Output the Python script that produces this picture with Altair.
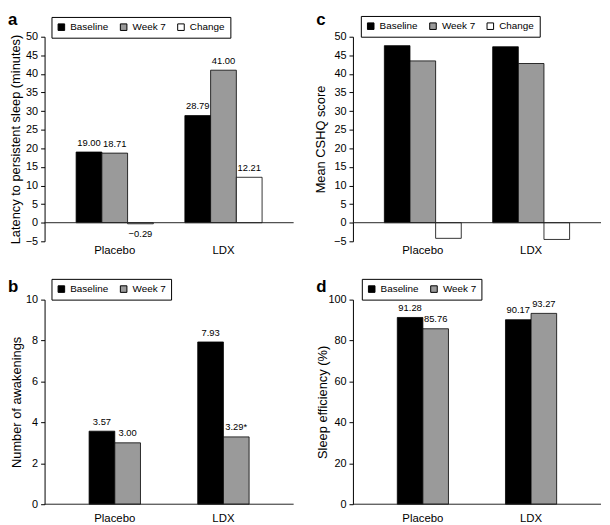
import altair as alt
import pandas as pd

FONT = "Liberation Sans"

categories = ["Placebo", "LDX"]
series3 = ["Baseline", "Week 7", "Change"]
series2 = ["Baseline", "Week 7"]
colors3 = ["#000000", "#9a9a9a", "#ffffff"]
colors2 = ["#000000", "#9a9a9a"]

# Panel a: latency to persistent sleep (minutes)
a_baseline = [19.00, 28.79]
a_week7 = [18.71, 41.00]
a_change = [-0.29, 12.21]
a_lab_baseline = ["19.00", "28.79"]
a_lab_week7 = ["18.71", "41.00"]
a_lab_change = ["\u22120.29", "12.21"]

# Panel c: mean CSHQ score (no value labels)
c_baseline = [47.6, 47.3]
c_week7 = [43.5, 42.8]
c_change = [-4.2, -4.5]

# Panel b: number of awakenings
b_baseline = [3.57, 7.93]
b_week7 = [3.00, 3.29]
b_lab_baseline = ["3.57", "7.93"]
b_lab_week7 = ["3.00", "3.29*"]

# Panel d: sleep efficiency (%)
d_baseline = [91.28, 90.17]
d_week7 = [85.76, 93.27]
d_lab_baseline = ["91.28", "90.17"]
d_lab_week7 = ["85.76", "93.27"]

a_ticks = list(range(-5, 55, 5))
c_ticks = list(range(-5, 55, 5))
b_ticks = list(range(0, 12, 2))
d_ticks = list(range(0, 120, 20))


def make_df(series_names, value_lists, label_lists):
    rows = []
    for s, vals, labs in zip(series_names, value_lists, label_lists):
        for c, v, l in zip(categories, vals, labs):
            rows.append({"cat": c, "series": s, "value": v, "label": l})
    return pd.DataFrame(rows)


df_a = make_df(series3, [a_baseline, a_week7, a_change],
               [a_lab_baseline, a_lab_week7, a_lab_change])
df_c = make_df(series3, [c_baseline, c_week7, c_change],
               [["", ""], ["", ""], ["", ""]])
df_b = make_df(series2, [b_baseline, b_week7], [b_lab_baseline, b_lab_week7])
df_d = make_df(series2, [d_baseline, d_week7], [d_lab_baseline, d_lab_week7])


def panel(df, series, colors, letter, letter_y, ytitle, title_x, ydomain, yvalues,
          pad_inner, pad_outer, label_pad, legend_x, legend_y, width,
          show_labels=True):
    x_enc = alt.X(
        "cat:N", sort=categories, title=None,
        scale=alt.Scale(paddingInner=pad_inner, paddingOuter=pad_outer),
        axis=alt.Axis(labelAngle=0, domain=False, ticks=False, tickSize=0,
                      labelPadding=label_pad, labelFontSize=11.5,
                      labelColor="black", labelFont=FONT),
    )
    xo = alt.XOffset("series:N", sort=series,
                     scale=alt.Scale(paddingInner=0, paddingOuter=0))
    y_enc = alt.Y(
        "value:Q",
        scale=alt.Scale(domain=ydomain, nice=False),
        axis=alt.Axis(title=ytitle, values=yvalues, grid=False,
                      domainColor="black", tickColor="black", tickSize=4,
                      labelPadding=3, labelFontSize=11, labelColor="black",
                      labelFont=FONT, titleFont=FONT, titleFontSize=13,
                      titleFontWeight="normal", titleColor="black",
                      titleX=title_x, titleBaseline="alphabetic"),
    )
    color = alt.Color(
        "series:N", sort=series,
        scale=alt.Scale(domain=series, range=colors),
        legend=alt.Legend(title=None, orient="none", legendX=legend_x,
                          legendY=legend_y, direction="horizontal",
                          symbolType="square", symbolSize=44,
                          symbolStrokeColor="black", symbolStrokeWidth=1,
                          labelFontSize=10, labelFont=FONT, labelColor="black",
                          labelOffset=4, columnPadding=9, padding=5,
                          strokeColor="black", fillColor="white",
                          cornerRadius=0),
    )
    base = alt.Chart(df)
    bars = base.mark_bar(stroke="black", strokeWidth=0.8).encode(
        x=x_enc, xOffset=xo, y=y_enc, y2=alt.datum(0), color=color
    )
    zero = alt.Chart(pd.DataFrame({"value": [0]})).mark_rule(
        color="#222222", strokeWidth=1
    ).encode(y=y_enc)
    letter_mark = alt.Chart(pd.DataFrame({"t": [letter]})).mark_text(
        fontSize=17, fontWeight="bold", align="left", baseline="alphabetic",
        font=FONT, color="black"
    ).encode(text="t:N", x=alt.value(-37), y=alt.value(letter_y))
    layers = [bars, zero]
    if show_labels:
        pos = base.transform_filter("datum.value >= 0").mark_text(
            baseline="alphabetic", dy=-6.5, fontSize=9.5, font=FONT,
            color="black"
        ).encode(x=x_enc, xOffset=xo, y=y_enc, text="label:N")
        neg = base.transform_filter("datum.value < 0").mark_text(
            baseline="top", dy=5, fontSize=9.5, font=FONT, color="black"
        ).encode(x=x_enc, xOffset=xo, y=y_enc, text="label:N")
        layers += [pos, neg]
    layers.append(letter_mark)
    return alt.layer(*layers).properties(width=width, height=207)


pa = panel(df_a, series3, colors3, "a", -12,
           "Latency to persistent sleep (minutes)", -25, [-5, 50], a_ticks,
           0.29, 0.29, 3, 7, -20, 252)
pc = panel(df_c, series3, colors3, "c", -12, "Mean CSHQ score", -29,
           [-5, 50], c_ticks, 0.29, 0.29, 3, 8, -21, 251, show_labels=False)
pb = panel(df_b, series2, colors2, "b", -8, "Number of awakenings", -24,
           [0, 10], b_ticks, 0.527, 0.41, 8, 7, -21, 252)
pd_ = panel(df_d, series2, colors2, "d", -8, "Sleep efficiency (%)", -27,
            [0, 100], d_ticks, 0.527, 0.41, 8, 9, -21, 251)

chart = alt.concat(
    pa, pc, pb, pd_, columns=2, spacing={"row": 59, "column": 60},
    bounds="flush"
).resolve_scale(
    color="independent", x="independent", y="independent", xOffset="independent"
).configure_view(stroke=None).properties(padding=0, background="white")

chart.save("out.html", embed_options={"renderer": "svg", "actions": False})
